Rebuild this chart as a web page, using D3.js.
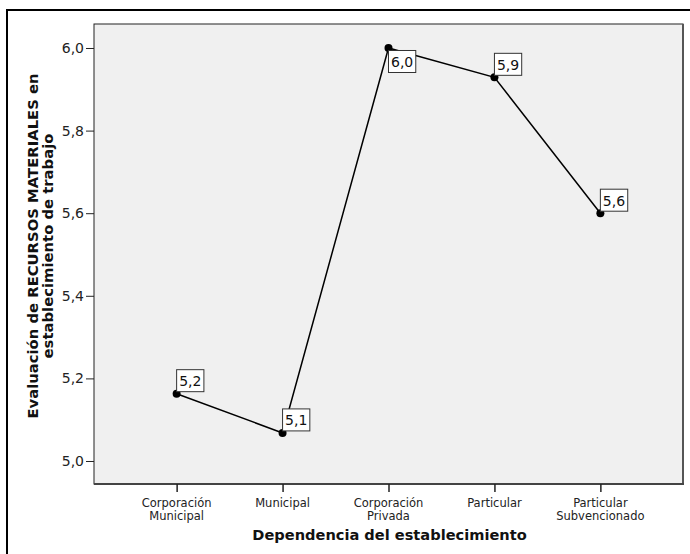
<!DOCTYPE html>
<html><head><meta charset="utf-8">
<script src="https://cdn.jsdelivr.net/npm/d3@7"></script>
<style>body{margin:0;background:#fff} svg{display:block}</style></head><body>
<script>
const categories = ["Corporación Municipal","Municipal","Corporación Privada","Particular","Particular Subvencionado"];
const categoryLines = [["Corporación","Municipal"],["Municipal"],["Corporación","Privada"],["Particular"],["Particular","Subvencionado"]];
const values = [5.163, 5.068, 6.0, 5.929, 5.6];
const yTicks = [5.0, 5.2, 5.4, 5.6, 5.8, 6.0];
const xTitle = "Dependencia del establecimiento";
const yTitle = ["Evaluación de RECURSOS MATERIALES en", "establecimiento de trabajo"];

const W = 690, H = 554;
const FONT = "'DejaVu Sans', Verdana, sans-serif";
const fmt = d => d3.format(".1f")(d).replace(".", ",");

const svg = d3.select("body").append("svg").attr("width", W).attr("height", H)
  .style("font-family", FONT);

// outer frame
svg.append("rect").attr("x", 7).attr("y", 10).attr("width", W).attr("height", H)
  .attr("fill", "#fff").attr("stroke", "#000").attr("stroke-width", 2);

const plot = {l: 94, t: 24, r: 683, b: 484};
const x = d3.scalePoint().domain(categories).range([plot.l, plot.r]).padding(0.78);
const y = d3.scaleLinear().domain([4.9443, 6.0581]).range([plot.b, plot.t]);

// plot background
svg.append("rect").attr("x", plot.l).attr("y", plot.t)
  .attr("width", plot.r - plot.l).attr("height", plot.b - plot.t)
  .attr("fill", "#f0f0f0").attr("stroke", "#222").attr("stroke-width", 1);
svg.append("line").attr("x1", plot.r).attr("x2", plot.r).attr("y1", plot.t).attr("y2", plot.b + 1)
  .attr("stroke", "#555").attr("stroke-width", 2);
svg.append("line").attr("x1", plot.l).attr("x2", plot.r + 1).attr("y1", plot.b).attr("y2", plot.b)
  .attr("stroke", "#444").attr("stroke-width", 2);

// y axis
const ya = svg.append("g").attr("transform", `translate(${plot.l},0)`)
  .call(d3.axisLeft(y).tickValues(yTicks).tickFormat(fmt).tickSize(8).tickPadding(2));
ya.select(".domain").remove();
ya.selectAll("line").attr("stroke", "#222");
ya.selectAll("text").attr("font-size", 14).attr("font-family", FONT).attr("fill", "#222");

// x axis
const xa = svg.append("g").attr("transform", `translate(0,${plot.b})`)
  .call(d3.axisBottom(x).tickSize(8).tickFormat(""));
xa.select(".domain").remove();
xa.selectAll("line").attr("stroke", "#222").attr("stroke-width", 1.5);
categories.forEach((c, i) => {
  categoryLines[i].forEach((ln, j) => {
    svg.append("text").attr("x", x(c)).attr("y", plot.b + 22.5 + j * 13.5)
      .attr("text-anchor", "middle").attr("font-size", 11.5).attr("fill", "#222").text(ln);
  });
});

// axis titles
svg.append("text").attr("x", (plot.l + plot.r) / 2 + 1).attr("y", plot.b + 56)
  .attr("text-anchor", "middle").attr("font-size", 14.6).attr("font-weight", "bold")
  .attr("fill", "#111").text(xTitle);
yTitle.forEach((ln, j) => {
  svg.append("text").attr("transform", `translate(${38 + j * 14.5},246) rotate(-90)`)
    .attr("text-anchor", "middle").attr("font-size", 14.8).attr("font-weight", "bold")
    .attr("fill", "#111").text(ln);
});

// line
const data = categories.map((c, i) => ({c, v: values[i]}));
svg.append("path").datum(data)
  .attr("d", d3.line().x(d => x(d.c)).y(d => y(d.v)))
  .attr("fill", "none").attr("stroke", "#000").attr("stroke-width", 1.5);

svg.selectAll("circle.pt").data(data).join("circle").attr("class", "pt")
  .attr("cx", d => x(d.c)).attr("cy", d => y(d.v)).attr("r", 4).attr("fill", "#000");

// value labels
data.forEach(d => {
  const px = x(d.c), py = y(d.v);
  const g = svg.append("g");
  const rect = g.append("rect");
  const t = g.append("text").attr("font-size", 14).attr("fill", "#111").text(fmt(d.v));
  const bb = t.node().getBBox();
  const bw = bb.width + 5, bh = 22;
  let top = py - 2 - bh;
  if (top < plot.t + 2) top = py + 2.5;
  rect.attr("x", px).attr("y", top).attr("width", bw).attr("height", bh)
    .attr("fill", "#fff").attr("stroke", "#333").attr("stroke-width", 1);
  t.attr("x", px + 2.5).attr("y", top + 16.5);
});
</script>
</body></html>
